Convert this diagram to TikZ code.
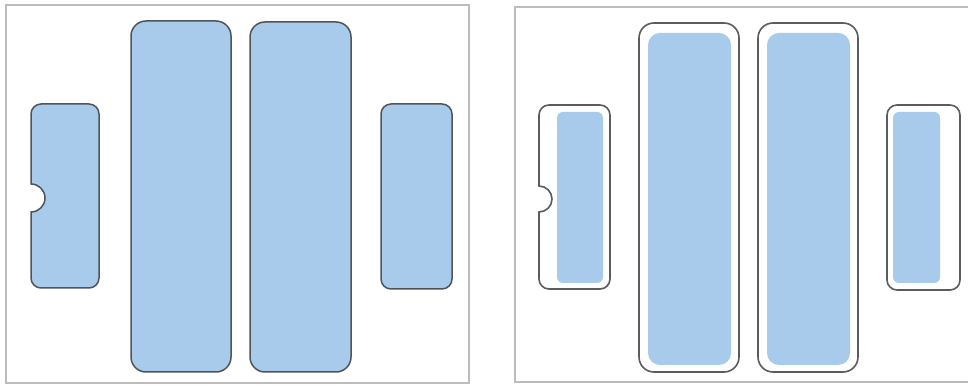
\documentclass[tikz,border=0pt]{standalone}
\definecolor{boxblue}{HTML}{A8CBEC}
\definecolor{edgegray}{HTML}{4F5458}
\definecolor{outgray}{HTML}{5C5C5C}
\definecolor{framegray}{HTML}{BDBDBD}
\tikzset{
  panelframe/.style={draw=framegray,line width=1.6pt},
  bluebox/.style={fill=boxblue,draw=edgegray,line width=1.5pt},
  outerbox/.style={fill=white,draw=outgray,line width=1.6pt},
  innerbox/.style={fill=boxblue,draw=none},
}
% notched box: #1 style, x0,x1,Y0,Y1,r,Yc,rn
\newcommand{\notchbox}[8]{%
  \path[#1] (#2,#7+#8) -- (#2,#5-#6) arc (180:90:#6) -- (#3-#6,#5) arc (90:0:#6)
    -- (#3,#4+#6) arc (0:-90:#6) -- (#2+#6,#4) arc (270:180:#6)
    -- (#2,#7-#8) arc (-90:90:#8) -- cycle;}
\begin{document}
\begin{tikzpicture}[x=1pt,y=1pt]
\useasboundingbox (0,0) rectangle (968,385);
% left panel
\draw[panelframe] (6,2) rectangle (469,380);
\notchbox{bluebox}{31}{99}{97}{281}{10}{187}{14}
\draw[bluebox,rounded corners=15pt] (131,13) rectangle (231,364);
\draw[bluebox,rounded corners=15pt] (250,13) rectangle (351,363);
\draw[bluebox,rounded corners=10pt] (381,96) rectangle (452,281);
% right panel
\draw[panelframe] (968,378) -- (515,378) -- (515,3) -- (968,3);
\notchbox{outerbox}{539}{610}{96}{280}{10}{186}{13}
\fill[innerbox,rounded corners=6pt] (557,102) rectangle (603,273);
\draw[outerbox,rounded corners=15pt] (639,13) rectangle (739,362);
\fill[innerbox,rounded corners=12pt] (648,20) rectangle (731,352);
\draw[outerbox,rounded corners=15pt] (758,13) rectangle (858,362);
\fill[innerbox,rounded corners=12pt] (767,20) rectangle (850,352);
\draw[outerbox,rounded corners=10pt] (887,95) rectangle (960,280);
\fill[innerbox,rounded corners=6pt] (893,102) rectangle (940,273);
\end{tikzpicture}
\end{document}
